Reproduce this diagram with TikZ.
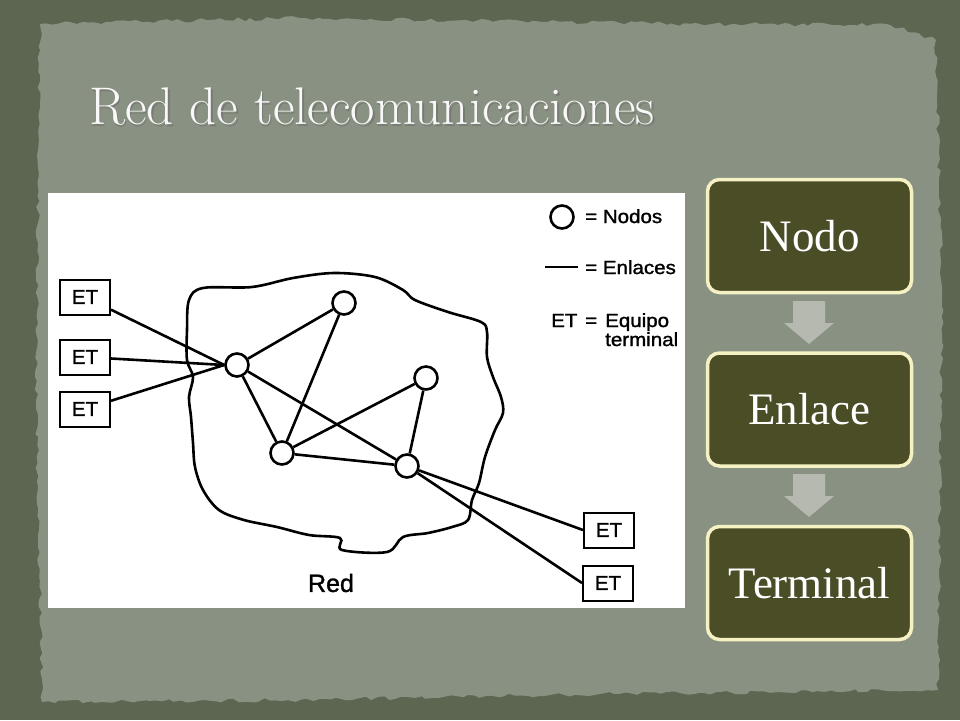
\documentclass[tikz,border=0pt]{standalone}
\usepackage{fontspec}
\newfontfamily\redfont[FakeBold=1.3]{Liberation Sans}
\newfontfamily\pasofont{Liberation Serif}
\usetikzlibrary{decorations.pathmorphing}
\definecolor{fondo}{HTML}{5D6650}
\definecolor{papel}{HTML}{899182}
\definecolor{caja}{HTML}{4A4D26}
\definecolor{borde}{HTML}{F6F1C3}
\definecolor{flecha}{HTML}{B5B9B0}
\newcommand{\ancho}[2][1.08]{\scalebox{#1}[1]{#2}}
\begin{document}
\begin{tikzpicture}[x=1pt,y=-1pt,
    nodo/.style={circle, draw, line width=2.6pt, minimum size=23pt, inner sep=0pt},
    et/.style={draw, line width=2pt, minimum width=50pt, minimum height=35pt, inner sep=0pt,
      font=\redfont\fontsize{20}{22}\selectfont},
    enlace/.style={line width=2.6pt},
    leyenda/.style={anchor=base west, inner sep=0pt, font=\redfont\fontsize{19}{21}\selectfont},
    paso/.style={draw=borde, line width=3.5pt, fill=caja, rounded corners=12pt,
      minimum width=204pt, minimum height=113pt, text=white,
      font=\pasofont\fontsize{45}{50}\selectfont}]
    \useasboundingbox (0,0) rectangle (960,720);
    \fill[fondo] (0,0) rectangle (960,720);
    \pgfmathsetseed{7}
    \fill[papel, decorate, decoration={random steps, segment length=6pt, amplitude=2pt}]
      (40,24) -- (300,18) -- (700,24) -- (890,25) -- (936,40) -- (942,300) -- (938,690)
      -- (600,694) -- (300,700) -- (42,702) -- (36,400) -- cycle;

    % titulo
    \node[text=black!60, opacity=0.5] at (373.5,108.5) {\fontsize{53}{60}\selectfont Red de telecomunicaciones};
    \node[text=white!94!papel] (titulo) at (372,107) {\fontsize{53}{60}\selectfont Red de telecomunicaciones};

    % figura de la red
    \fill[white] (48,193) rectangle (685,608);
    \draw[line width=2.6pt] plot[smooth cycle, tension=0.55] coordinates {
      (189,300) (203,288) (252,287) (293,278) (334,273) (375,277) (403,290) (415,300)
      (448,312) (481,322) (487,332) (487,357) (493,377) (501,397) (503,413) (495,430)
      (485,457) (479,483) (472,500) (468,520) (452,527) (428,533) (403,537) (387,552)
      (342,550) (340,538) (309,535) (277,527) (244,520) (219,510) (203,490) (195,467)
      (193,443) (191,417) (189,397) (193,377) (187,360) (187,330)};

    \node[nodo] (A) at (237,365) {};
    \node[nodo] (B) at (344,303) {};
    \node[nodo] (C) at (426,378) {};
    \node[nodo] (D) at (282,453) {};
    \node[nodo] (E) at (407,466) {};

    \node[et] (et1) at (85,297) {\ancho[1.03]{ET}};
    \node[et] (et2) at (85,357) {\ancho[1.03]{ET}};
    \node[et] (et3) at (85,409) {\ancho[1.03]{ET}};
    \node[et] (et4) at (609,530) {\ancho[1.03]{ET}};
    \node[et] (et5) at (608,583) {\ancho[1.03]{ET}};

    \draw[enlace] (et1) -- (A.west);
    \draw[enlace] (et2) -- (A.west);
    \draw[enlace] (et3) -- (A.west);
    \draw[enlace] (A) -- (B);
    \draw[enlace] (A) -- (D);
    \draw[enlace] (A) -- (E);
    \draw[enlace] (B) -- (D);
    \draw[enlace] (D) -- (C);
    \draw[enlace] (D) -- (E);
    \draw[enlace] (C) -- (E);
    \draw[enlace] (E) -- (et4.west);
    \draw[enlace] (E) -- (et5.west);

    \node[font=\redfont\fontsize{25}{27}\selectfont] (red) at (331,583) {Red};

    % leyenda
    \node[nodo] (leyNodo) at (562,217) {};
    \node[leyenda] (txtNodos) at (585,223) {\ancho{= Nodos}};
    \coordinate (leyA) at (545,267);
    \coordinate (leyB) at (578,267);
    \draw[enlace] (leyA) -- (leyB);
    \node[leyenda] (txtEnlaces) at (585,274) {\ancho{= Enlaces}};
    \node[leyenda] (txtET) at (551,327) {\ancho{ET}};
    \node[leyenda] (txtIgual) at (585,327) {\ancho{=}};
    \node[leyenda] (txtEquipo) at (605,327) {\ancho{Equipo}};
    \node[leyenda] (txtTerminal) at (605,346) {\ancho{terminal}};

    % pasos
    \node[paso] (nodo) at (809.5,236) {Nodo};
    \node[paso] (enlace) at (809.5,409.5) {Enlace};
    \node[paso] (terminal) at (809.5,583) {Terminal};
    \fill[flecha] (793,301) -- (825,301) -- (825,323) -- (834,323) -- (809,344) -- (784,323)
      -- (793,323) -- cycle;
    \fill[flecha] (793,474) -- (825,474) -- (825,496) -- (834,496) -- (809,517) -- (784,496)
      -- (793,496) -- cycle;

\end{tikzpicture}
\end{document}
